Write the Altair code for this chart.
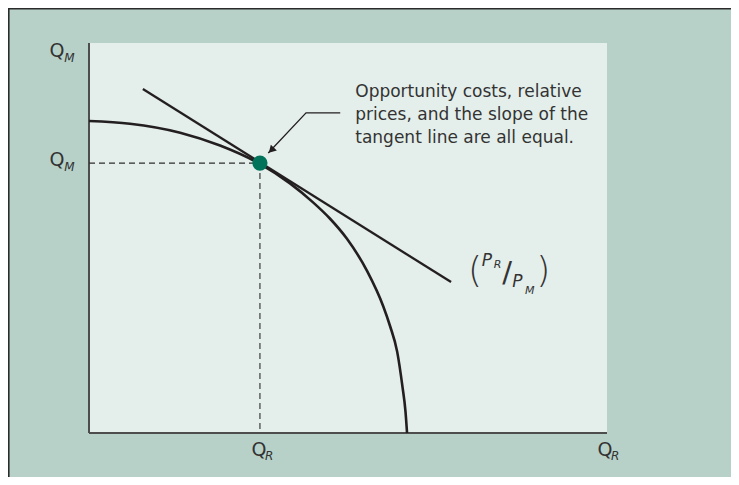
import altair as alt
import pandas as pd

# --- production possibilities frontier ---
ppf_x = [0.0, 0.79, 1.76, 2.53, 3.30, 3.88, 4.32, 4.65, 4.98, 5.37, 5.68, 5.81, 5.95, 6.05, 6.11, 6.14]
ppf_y = [8.0, 7.93, 7.70, 7.37, 6.90, 6.40, 5.92, 5.50, 4.98, 4.15, 3.25, 2.75, 2.08, 1.20, 0.55, 0.0]

# tangent line (relative price line)
tan_x = [1.04, 6.99]
tan_y = [8.82, 3.87]

# optimum point
opt_x = [3.30]
opt_y = [6.92]

# annotation
note_lines = ["Opportunity costs, relative", "prices, and the slope of the", "tangent line are all equal."]
note_x = [5.14, 5.14, 5.14]
note_y = [8.74, 8.15, 7.56]
arrow_x = [4.85, 4.19, 3.46]
arrow_y = [8.21, 8.21, 7.18]
arrowhead_x = [3.52]
arrowhead_y = [7.25]

# axis labels: main letters and subscripts
q_text = ["Q", "Q", "Q", "Q"]
q_x = [-0.62, -0.62, 3.28, 9.96]
q_y = [9.79, 7.0, -0.44, -0.44]
sub_text = ["M", "M", "R", "R"]
sub_x = [-0.38, -0.38, 3.48, 10.16]
sub_y = [9.61, 6.82, -0.60, -0.60]

# price ratio label (P_R / P_M)
paren_text = ["(", ")"]
paren_x = [7.45, 8.77]
paren_y = [4.15, 4.15]
p_text = ["P", "P"]
p_x = [7.68, 8.27]
p_y = [4.41, 3.87]
psub_text = ["R", "M"]
psub_x = [7.89, 8.51]
psub_y = [4.30, 3.64]
slash_text = ["/"]
slash_x = [8.07]
slash_y = [4.10]

INK = "#231f20"
TXT = "#333333"
FONT = "DejaVu Sans"

xs = alt.Scale(domain=[0, 10], nice=False, zero=False)
ys = alt.Scale(domain=[0, 10], nice=False, zero=False)
X = lambda f: alt.X(f"{f}:Q", scale=xs, axis=None)
Y = lambda f: alt.Y(f"{f}:Q", scale=ys, axis=None)

ppf = alt.Chart(pd.DataFrame({"x": ppf_x, "y": ppf_y, "o": range(len(ppf_x))})).mark_line(
    color=INK, strokeWidth=2.6, interpolate="monotone"
).encode(x=X("x"), y=Y("y"), order="o:Q")

tangent = alt.Chart(pd.DataFrame({"x": tan_x, "y": tan_y})).mark_line(
    color=INK, strokeWidth=2.3
).encode(x=X("x"), y=Y("y"))

dash_df = pd.DataFrame({
    "x": [0.0, opt_x[0]], "y": [opt_y[0], opt_y[0]],
    "x2": [opt_x[0], opt_x[0]], "y2": [opt_y[0], 0.0]
})
dashes = alt.Chart(dash_df).mark_rule(color="#2e2e2e", strokeWidth=1.1, strokeDash=[6, 4]).encode(
    x=X("x"), y=Y("y"), x2="x2:Q", y2="y2:Q"
)

point = alt.Chart(pd.DataFrame({"x": opt_x, "y": opt_y})).mark_circle(
    color="#00735a", opacity=1, size=230
).encode(x=X("x"), y=Y("y"))

arrow = alt.Chart(pd.DataFrame({"x": arrow_x, "y": arrow_y, "o": [0, 1, 2]})).mark_line(
    color=INK, strokeWidth=1.3
).encode(x=X("x"), y=Y("y"), order="o:Q")

arrowhead = alt.Chart(pd.DataFrame({"x": arrowhead_x, "y": arrowhead_y})).mark_point(
    shape="triangle-up", filled=True, color=INK, opacity=1, size=70, angle=224
).encode(x=X("x"), y=Y("y"))

note = alt.Chart(pd.DataFrame({"t": note_lines, "x": note_x, "y": note_y})).mark_text(
    align="left", baseline="middle", font=FONT, fontSize=17, color=TXT
).encode(x=X("x"), y=Y("y"), text="t:N")

qlab = alt.Chart(pd.DataFrame({"t": q_text, "x": q_x, "y": q_y})).mark_text(
    align="center", baseline="middle", font=FONT, fontSize=19, color=TXT
).encode(x=X("x"), y=Y("y"), text="t:N")

qsub = alt.Chart(pd.DataFrame({"t": sub_text, "x": sub_x, "y": sub_y})).mark_text(
    align="center", baseline="middle", font=FONT, fontSize=12, fontStyle="italic", color=TXT
).encode(x=X("x"), y=Y("y"), text="t:N")

paren = alt.Chart(pd.DataFrame({"t": paren_text, "x": paren_x, "y": paren_y})).mark_text(
    align="center", baseline="middle", font=FONT, fontSize=36, fontWeight=300, color=TXT
).encode(x=X("x"), y=Y("y"), text="t:N")

plab = alt.Chart(pd.DataFrame({"t": p_text, "x": p_x, "y": p_y})).mark_text(
    align="center", baseline="middle", font=FONT, fontSize=17, fontStyle="italic", color=TXT
).encode(x=X("x"), y=Y("y"), text="t:N")

psub = alt.Chart(pd.DataFrame({"t": psub_text, "x": psub_x, "y": psub_y})).mark_text(
    align="center", baseline="middle", font=FONT, fontSize=11, fontStyle="italic", color=TXT
).encode(x=X("x"), y=Y("y"), text="t:N")

slash = alt.Chart(pd.DataFrame({"t": slash_text, "x": slash_x, "y": slash_y})).mark_text(
    align="center", baseline="middle", font=FONT, fontSize=29, color=TXT
).encode(x=X("x"), y=Y("y"), text="t:N")

# axis lines of the diagram
axes_df = pd.DataFrame({"x": [0.0, 0.0], "y": [10.0, 0.0], "x2": [0.0, 10.0], "y2": [0.0, 0.0]})
axes = alt.Chart(axes_df).mark_rule(color="#4d4d4d", strokeWidth=2).encode(
    x=X("x"), y=Y("y"), x2="x2:Q", y2="y2:Q"
)

# outer frame edges (left and top)
frame_left = alt.Chart(pd.DataFrame({"a": [0]})).mark_rule(color="#2b2b2b", strokeWidth=1.6).encode(
    x=alt.value(-80.2), y=alt.value(-35), y2=alt.value(440)
)
frame_top = alt.Chart(pd.DataFrame({"a": [0]})).mark_rule(color="#2b2b2b", strokeWidth=1.6).encode(
    y=alt.value(-34.2), x=alt.value(-81), x2=alt.value(660)
)

chart = alt.layer(
    axes, dashes, ppf, tangent, arrow, arrowhead, point, note,
    qlab, qsub, paren, plab, psub, slash, frame_left, frame_top
).properties(
    width=518, height=390,
    autosize=alt.AutoSizeParams(type="none"),
    padding={"left": 81, "top": 35, "right": 124, "bottom": 44},
    background="#b7d1c8",
).configure_view(fill="#e4eeea", stroke=None)

chart.save("out.html", embed_options={"renderer": "svg", "actions": False})
